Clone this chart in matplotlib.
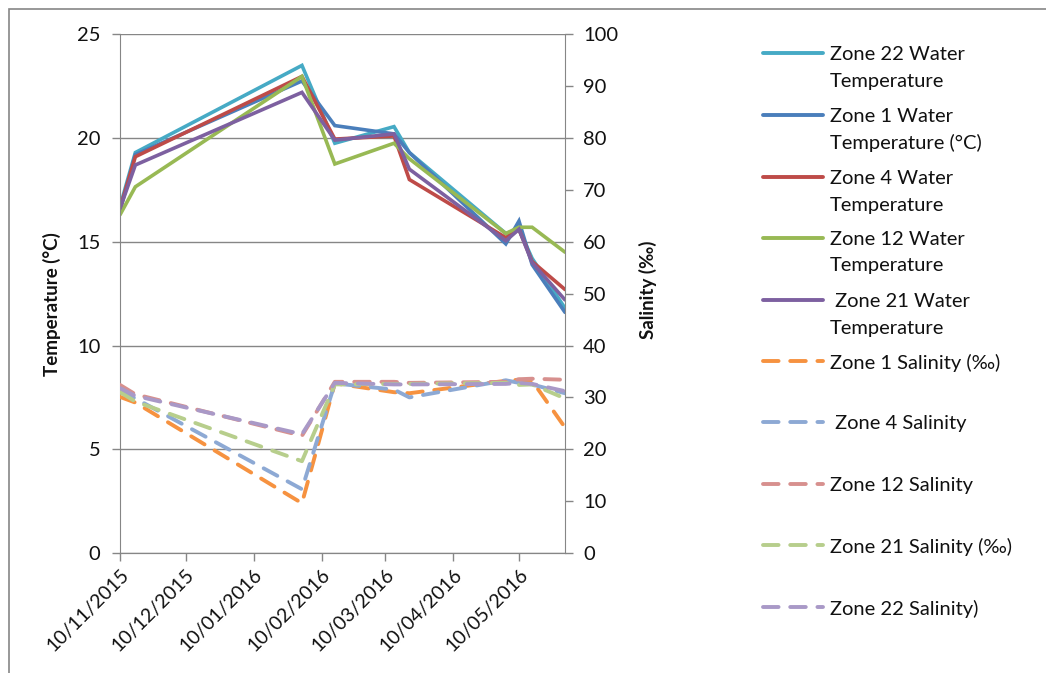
import numpy as np
import pandas as pd
import matplotlib
matplotlib.use('Agg')
import matplotlib.pyplot as plt
import matplotlib.transforms as mtransforms
from matplotlib.lines import Line2D
from matplotlib.patches import Rectangle

plt.rcParams['font.family'] = ['Lato', 'DejaVu Sans']

# sample dates
fechas = pd.to_datetime(['2015-11-10', '2015-11-17', '2016-02-01', '2016-02-16', '2016-03-14',
                         '2016-03-21', '2016-05-04', '2016-05-10', '2016-05-16', '2016-05-31'])
ticks_x = pd.to_datetime(['2015-11-10', '2015-12-10', '2016-01-10', '2016-02-10',
                          '2016-03-10', '2016-04-10', '2016-05-10'])

# water temperature (°C), left axis
zone22_temp = [16.7, 19.3, 23.5, 19.75, 20.55, 19.3, 15.4, 15.6, 14.2, 11.8]
zone1_temp = [16.5, 19.2, 22.75, 20.6, 20.2, 19.3, 14.9, 16.0, 13.9, 11.6]
zone4_temp = [16.6, 19.1, 22.97, 19.95, 20.1, 18.0, 15.2, 15.6, 14.05, 12.7]
zone12_temp = [16.3, 17.65, 22.97, 18.75, 19.75, 19.0, 15.4, 15.7, 15.7, 14.5]
zone21_temp = [16.6, 18.7, 22.2, 19.9, 20.2, 18.5, 15.05, 15.6, 14.0, 12.2]

# salinity (‰), right axis
zone1_sal = [30.1, 29.0, 9.6, 32.7, 31.0, 30.8, 33.2, 33.4, 33.2, 24.2]
zone4_sal = [31.3, 29.8, 12.3, 32.7, 31.5, 30.0, 33.3, 32.8, 32.5, 30.8]
zone12_sal = [32.4, 30.6, 22.6, 33.0, 33.0, 32.8, 33.0, 33.5, 33.6, 33.4]
zone21_sal = [31.0, 29.2, 17.7, 32.5, 32.6, 32.6, 32.8, 32.4, 32.5, 29.8]
zone22_sal = [31.8, 30.3, 22.9, 32.8, 32.5, 32.5, 32.6, 32.8, 32.6, 31.2]

temp_series = [
    ('Zone 22 Water\nTemperature', zone22_temp, '#46AAC5'),
    ('Zone 1 Water\nTemperature (°C)', zone1_temp, '#4A7EBB'),
    ('Zone 4 Water\nTemperature', zone4_temp, '#BE4B48'),
    ('Zone 12 Water\nTemperature', zone12_temp, '#98B954'),
    (' Zone 21 Water\nTemperature', zone21_temp, '#7D60A0'),
]
sal_series = [
    ('Zone 1 Salinity (‰)', zone1_sal, '#F69240'),
    (' Zone 4 Salinity', zone4_sal, '#8DA9D4'),
    ('Zone 12 Salinity', zone12_sal, '#D7908E'),
    ('Zone 21 Salinity (‰)', zone21_sal, '#B7CE8C'),
    ('Zone 22 Salinity)', zone22_sal, '#A999C7'),
]

W, H = 1046, 673
fig = plt.figure(figsize=(W / 100, H / 100), dpi=100)
ax = fig.add_axes([120 / W, 1 - 553 / H, 445 / W, (553 - 34.3) / H])
ax2 = ax.twinx()

grid_col = '#868686'
txt_col = '#111111'
dash = (0, (4, 3))
fs = 14.5

for nombre, vals, col in temp_series:
    ax.plot(fechas, vals, color=col, lw=2.6, solid_capstyle='round', solid_joinstyle='miter')
for nombre, vals, col in sal_series:
    ax2.plot(fechas, vals, color=col, lw=2.8, linestyle=dash, dash_capstyle='round')

ax.set_xlim(fechas[0], fechas[-1])
ax.set_ylim(0, 25)
ax2.set_ylim(0, 100)
ax.set_yticks(np.arange(0, 26, 5))
ax2.set_yticks(np.arange(0, 101, 10))

ax.set_xticks(ticks_x)
ax.set_xticklabels([d.strftime('%d/%m/%Y') for d in ticks_x], rotation=45,
                   ha='right', va='top', rotation_mode='anchor')
desplaza = mtransforms.ScaledTranslation(-4 / 100, 0, fig.dpi_scale_trans)
for lab in ax.get_xticklabels():
    lab.set_transform(lab.get_transform() + desplaza)

ax.grid(axis='y', color=grid_col, lw=1)
ax.set_axisbelow(True)
for a in (ax, ax2):
    for s in a.spines.values():
        s.set_color(grid_col)
    a.spines['top'].set_visible(False)
ax2.spines['left'].set_visible(False)
ax.spines['right'].set_visible(False)
ax.tick_params(axis='both', colors=grid_col, labelcolor=txt_col, labelsize=fs,
               length=6, width=1, direction='out')
ax.tick_params(axis='y', pad=8)
ax.tick_params(axis='x', pad=3, labelsize=14)
ax2.tick_params(axis='y', colors=grid_col, labelcolor=txt_col, labelsize=fs,
                length=6, width=1, direction='out', pad=7)

fig.text(52 / W, 1 - 304 / H, 'Temperature (°C)', rotation=90, ha='center', va='center',
         fontsize=13.5, fontweight='bold', color=txt_col)
fig.text(648 / W, 1 - 290 / H, 'Salinity (‰)', rotation=90, ha='center', va='center',
         fontsize=13.5, fontweight='bold', color=txt_col)

# legend drawn by hand so the swatch sits on the first text line, like Excel
y_ent = [53, 115, 177, 238, 300, 361, 422, 484, 545, 607]
nombres_temp = [t[0] for t in temp_series]
for (nombre, vals, col), y in zip(temp_series + sal_series, y_ent):
    ls = '-' if nombre in nombres_temp else dash
    fig.add_artist(Line2D([763 / W, 823 / W], [1 - y / H, 1 - y / H], color=col, lw=2.8,
                          linestyle=ls, solid_capstyle='round', dash_capstyle='round'))
    for i, linea in enumerate(nombre.split('\n')):
        fig.text(830 / W, 1 - (y + 26.5 * i) / H, linea, ha='left', va='center_baseline',
                 fontsize=fs, color=txt_col)

# outer chart border
fig.add_artist(Rectangle((9 / W, -0.02), 1.1, 1 - 9 / H + 0.02, transform=fig.transFigure,
                         fill=False, edgecolor=grid_col, lw=1.2))

fig.savefig('out.png', dpi=100)
